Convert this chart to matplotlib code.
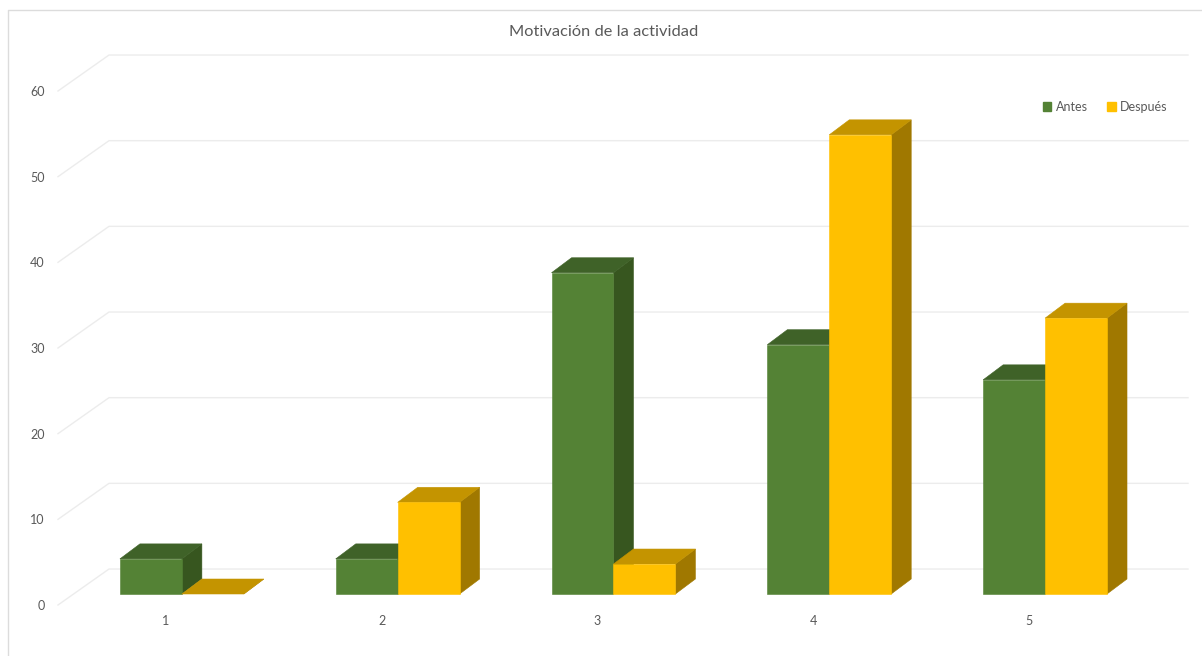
import matplotlib
matplotlib.use('agg')
import matplotlib.pyplot as plt
from matplotlib.lines import Line2D
from matplotlib.patches import Patch

plt.rcParams['font.family'] = ['Lato', 'DejaVu Sans']

categories = [1, 2, 3, 4, 5]
antes = [4.1, 4.1, 37.5, 29.1, 25.0]
despues = [0, 10.7, 3.5, 53.6, 32.2]
y_ticks = [0, 10, 20, 30, 40, 50, 60]

# colours: front, top, side
green = ('#548235', '#3f6228', '#37561f')
yellow = ('#ffc000', '#c49400', '#a07800')
grid_col = '#ececec'
text_col = '#595959'

# fake 3d offsets, in data units
wall_dx, wall_dy = 0.2363, 4.2
bar_dx, bar_dy = 0.0927, 1.75
bar_w = 0.287
shift_x, shift_y = 0.074, 1.284


def draw_bar(ax, x0, value, cols, z):
    x1 = x0 + bar_w
    y0 = shift_y
    y1 = shift_y + value
    ax.fill([x1, x1 + bar_dx, x1 + bar_dx, x1], [y0, y0 + bar_dy, y1 + bar_dy, y1],
            color=cols[2], lw=0.4, zorder=z, clip_on=False)
    ax.fill([x0, x1, x1 + bar_dx, x0 + bar_dx], [y1, y1, y1 + bar_dy, y1 + bar_dy],
            color=cols[1], lw=0.4, zorder=z, clip_on=False)
    if value > 0:
        ax.fill([x0, x1, x1, x0], [y0, y0, y1, y1], color=cols[0], lw=0.4, zorder=z, clip_on=False)


fig = plt.figure(figsize=(12.02, 6.56), dpi=100)
ax = fig.add_axes([58 / 1202, (656 - 605) / 656, (1137 - 58) / 1202, (605 - 91) / 656])
ax.set_xlim(0.5, 5.5)
ax.set_ylim(0, 60)
for s in ax.spines.values():
    s.set_visible(False)

ax.set_yticks(y_ticks)
ax.set_xticks(categories)
ax.tick_params(axis='y', length=0, pad=9.5, labelsize=9, labelcolor=text_col)
ax.tick_params(axis='x', length=0, pad=7.5, labelsize=9, labelcolor=text_col)

for v in y_ticks:
    ax.plot([0.5, 0.5 + wall_dx, 5.5 + wall_dx], [v, v + wall_dy, v + wall_dy],
            color=grid_col, lw=1, zorder=1, clip_on=False)

for i, c in enumerate(categories):
    center = c + shift_x
    draw_bar(ax, center - bar_w, antes[i], green, 3)
for i, c in enumerate(categories):
    center = c + shift_x
    draw_bar(ax, center, despues[i], yellow, 4)

fig.text(604 / 1202, 1 - 32.5 / 656, 'Motivación de la actividad', ha='center', va='center',
         fontsize=11.8, color=text_col)

handles = [Patch(color=green[0], label='Antes'), Patch(color=yellow[0], label='Después')]
fig.legend(handles=handles, ncol=2, frameon=False, fontsize=9, labelcolor=text_col,
           loc='center right', bbox_to_anchor=(1179 / 1202, 1 - 107 / 656),
           handlelength=0.7, handleheight=0.8, handletextpad=0.35, columnspacing=1.55)

# chart frame, only left and top show in the screenshot
fig.add_artist(Line2D([8 / 1202, 8 / 1202, 1], [0, 1 - 10 / 656, 1 - 10 / 656],
                      color='#dcdcdc', lw=1))

fig.savefig('out.png', dpi=100)
